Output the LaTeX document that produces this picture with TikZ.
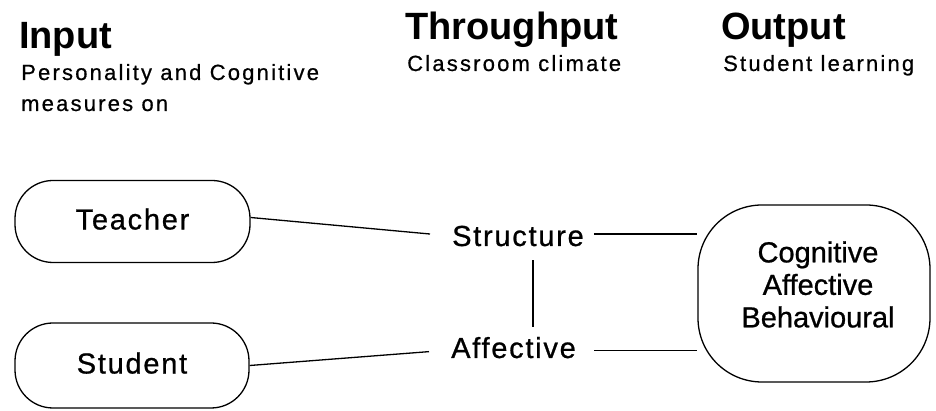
\documentclass[tikz,border=0pt]{standalone}
\usepackage{fontspec}
\setmainfont{Liberation Sans}
\newfontfamily\lblfont[LetterSpace=6,FakeBold=0.8]{Liberation Sans}
\newfontfamily\subfont[LetterSpace=10,FakeBold=0.6]{Liberation Sans}
\newfontfamily\boxfont[FakeBold=0.8]{Liberation Sans}
\begin{document}
\begin{tikzpicture}[x=1pt,y=1pt,
  head/.style={anchor=base west, inner sep=0, font=\fontsize{38}{40}\selectfont\bfseries},
  sub/.style={anchor=base west, inner sep=0, font=\subfont\fontsize{22}{26}\selectfont},
  inbox/.style={draw, line width=1.3pt, rounded corners=38pt, minimum width=235pt,
    minimum height=82pt, inner sep=0, font=\lblfont\fontsize{29}{32}\selectfont, text depth=5pt},
  outbox/.style={draw, line width=1.3pt, rounded corners=64pt, minimum width=232pt,
    minimum height=177pt, inner sep=0},
  boxtext/.style={align=center, inner sep=0, font=\boxfont\fontsize{29}{32.5}\selectfont},
  lbl/.style={anchor=base west, inner sep=0, font=\lblfont\fontsize{29}{32}\selectfont},
  conn/.style={line width=1.3pt}]
\useasboundingbox (0,0) rectangle (936,411);
% headings
\node[head] (hin) at (19,362) {Input};
\node[sub] (sin1) at (21,331) {Personality and Cognitive};
\node[sub] (sin2) at (21,300) {measures on};
\node[head] (hthr) at (405,371) {Throughput};
\node[sub] (sthr) at (407,340) {Classroom climate};
\node[head] (hout) at (721,371) {Output};
\node[sub] (sout) at (723,340) {Student learning};
% boxes
\node[inbox] (tch) at (132.5,189.5) {Teacher};
\node[inbox, minimum height=85pt, minimum width=234pt] (stu) at (132,45.5) {Student};
\node[outbox] (out) at (814,117.5) {};
\node[boxtext] (outtxt) at (818,126.5) {Cognitive\\Affective\\Behavioural};
% climate labels
\node[lbl] (str) at (452,165) {Structure};
\node[lbl] (aff) at (451,53) {Affective};
% connectors
\draw[conn] ([yshift=4pt]tch.east) -- ([xshift=-22pt,yshift=2pt]str.west);
\draw[conn] (stu.east) -- ([xshift=-22pt,yshift=-4pt]aff.west);
\draw[conn] ([xshift=10pt,yshift=2pt]str.east) -- ([yshift=2pt]str.east -| out.west);
\draw[conn] ([xshift=18pt,yshift=-3pt]aff.east) -- ([yshift=-3pt]aff.east -| out.west);
\draw[conn] ([xshift=15pt,yshift=-14pt]str.south) -- ++(0,-67);
\end{tikzpicture}
\end{document}
